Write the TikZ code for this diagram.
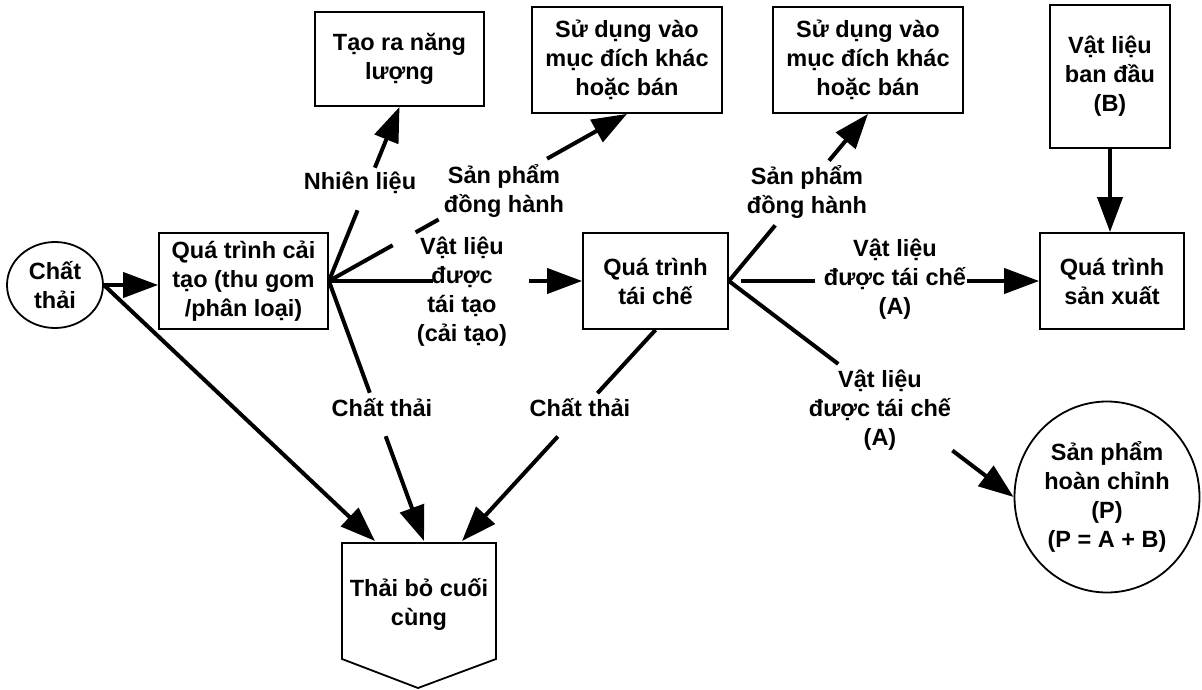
\documentclass[tikz,border=0pt]{standalone}
\usepackage{fontspec}
\setmainfont{Liberation Sans}
\usetikzlibrary{arrows.meta,shapes.geometric,calc}
\begin{document}
\begin{tikzpicture}[x=1pt,y=-1pt,
  every node/.style={font=\bfseries\fontsize{23.5}{29}\selectfont, align=center, inner sep=0pt},
  box/.style={draw, line width=1.8pt, rectangle},
  oval/.style={draw, line width=1.8pt, ellipse},
  ln/.style={line width=4pt},
  arr/.style={line width=4pt, -{Triangle[length=35pt,width=25pt]}}
]
\useasboundingbox (0,0) rectangle (1202,690);

% nodes
\node[oval, minimum width=96pt, minimum height=86pt] (ct) at (55,285) {Chất\\thải};
\node[box, minimum width=169pt, minimum height=96pt] (b1) at (243.5,281) {Quá trình cải\\tạo (thu gom\\/phân loại)};
\node[box, minimum width=169pt, minimum height=94pt] (nl) at (399.5,59) {Tạo ra năng\\lượng};
\node[box, minimum width=190pt, minimum height=106pt] (sd1) at (627,60) {Sử dụng vào\\mục đích khác\\hoặc bán};
\node[box, minimum width=145pt, minimum height=96pt] (tc) at (655.5,281) {Quá trình\\tái chế};
\node[box, minimum width=190pt, minimum height=106pt] (sd2) at (868,60) {Sử dụng vào\\mục đích khác\\hoặc bán};
\node[box, minimum width=120pt, minimum height=143pt] (vb) at (1110,76.5) {Vật liệu\\ban đầu\\(B)};
\node[box, minimum width=144pt, minimum height=96pt] (sx) at (1112,281) {Quá trình\\sản xuất};
\node[oval, minimum width=185pt, minimum height=191pt] (sp) at (1107,497) {Sản phẩm\\hoàn chỉnh\\(P)\\(P = A + B)};

% final disposal (pentagon)
\draw[line width=1.8pt] (342,543) -- (496,543) -- (496,659) -- (418,688) -- (342,659) -- cycle;
\node (tb) at (419,604) {Thải bỏ cuối\\cùng};
\coordinate (tbL) at (375,541);
\coordinate (tbM) at (424,541);
\coordinate (tbR) at (462,541);

% labels
\node (lnl) at (360,183) {Nhiên liệu};
\node (lsp1) at (504,191) {Sản phẩm\\đồng hành};
\node (lvt) at (462,292) {Vật liệu\\được\\tái tạo\\(cải tạo)};
\node (lct1) at (382,408) {Chất thải};
\node (lct2) at (580,408) {Chất thải};
\node (lsp2) at (807,192) {Sản phẩm\\đồng hành};
\node (lva1) at (895,279) {Vật liệu\\được tái chế\\(A)};
\node (lva2) at (880,410) {Vật liệu\\được tái chế\\(A)};

% connectors
\draw[arr] (ct.east) -- (ct.east -| b1.west);
\draw[arr] (ct.east) -- (tbL);

% from b1
\draw[ln] (b1.east) -- ($(b1.east)!0.406!(nl.south)$);
\draw[arr] ($(b1.east)!0.651!(nl.south)$) -- (nl.south);

\draw[ln] (b1.east) -- ($(b1.east)!0.214!(sd1.south)$);
\draw[ln] ($(b1.east)!0.291!(sd1.south)$) -- ($(b1.east)!0.368!(sd1.south)$);
\draw[arr] ($(b1.east)!0.732!(sd1.south)$) -- (sd1.south);

\draw[ln] (b1.east) -- ($(b1.east)!0.412!(tc.west)$);
\draw[arr] ($(b1.east)!0.792!(tc.west)$) -- (tc.west);

\draw[ln] (b1.east) -- ($(b1.east)!0.43!(tbM)$);
\draw[arr] ($(b1.east)!0.597!(tbM)$) -- (tbM);

% from tc
\draw[ln] (tc.east) -- ($(tc.east)!0.333!(sd2.south)$);
\draw[arr] ($(tc.east)!0.72!(sd2.south)$) -- (sd2.south);

\draw[ln] ($(tc.east)!0.038!(sx.west)$) -- ($(tc.east)!0.279!(sx.west)$);
\draw[arr] ($(tc.east)!0.766!(sx.west)$) -- (sx.west);

\draw[ln] (tc.east) -- ($(tc.east)!0.384!(sp.west)$);
\draw[arr] ($(tc.east)!0.785!(sp.west)$) -- (sp.west);

\draw[ln] (tc.south) -- ($(tc.south)!0.30!(tbR)$);
\draw[arr] ($(tc.south)!0.505!(tbR)$) -- (tbR);

% from vb
\draw[arr] (vb.south) -- (vb.south |- sx.north);
\end{tikzpicture}
\end{document}
